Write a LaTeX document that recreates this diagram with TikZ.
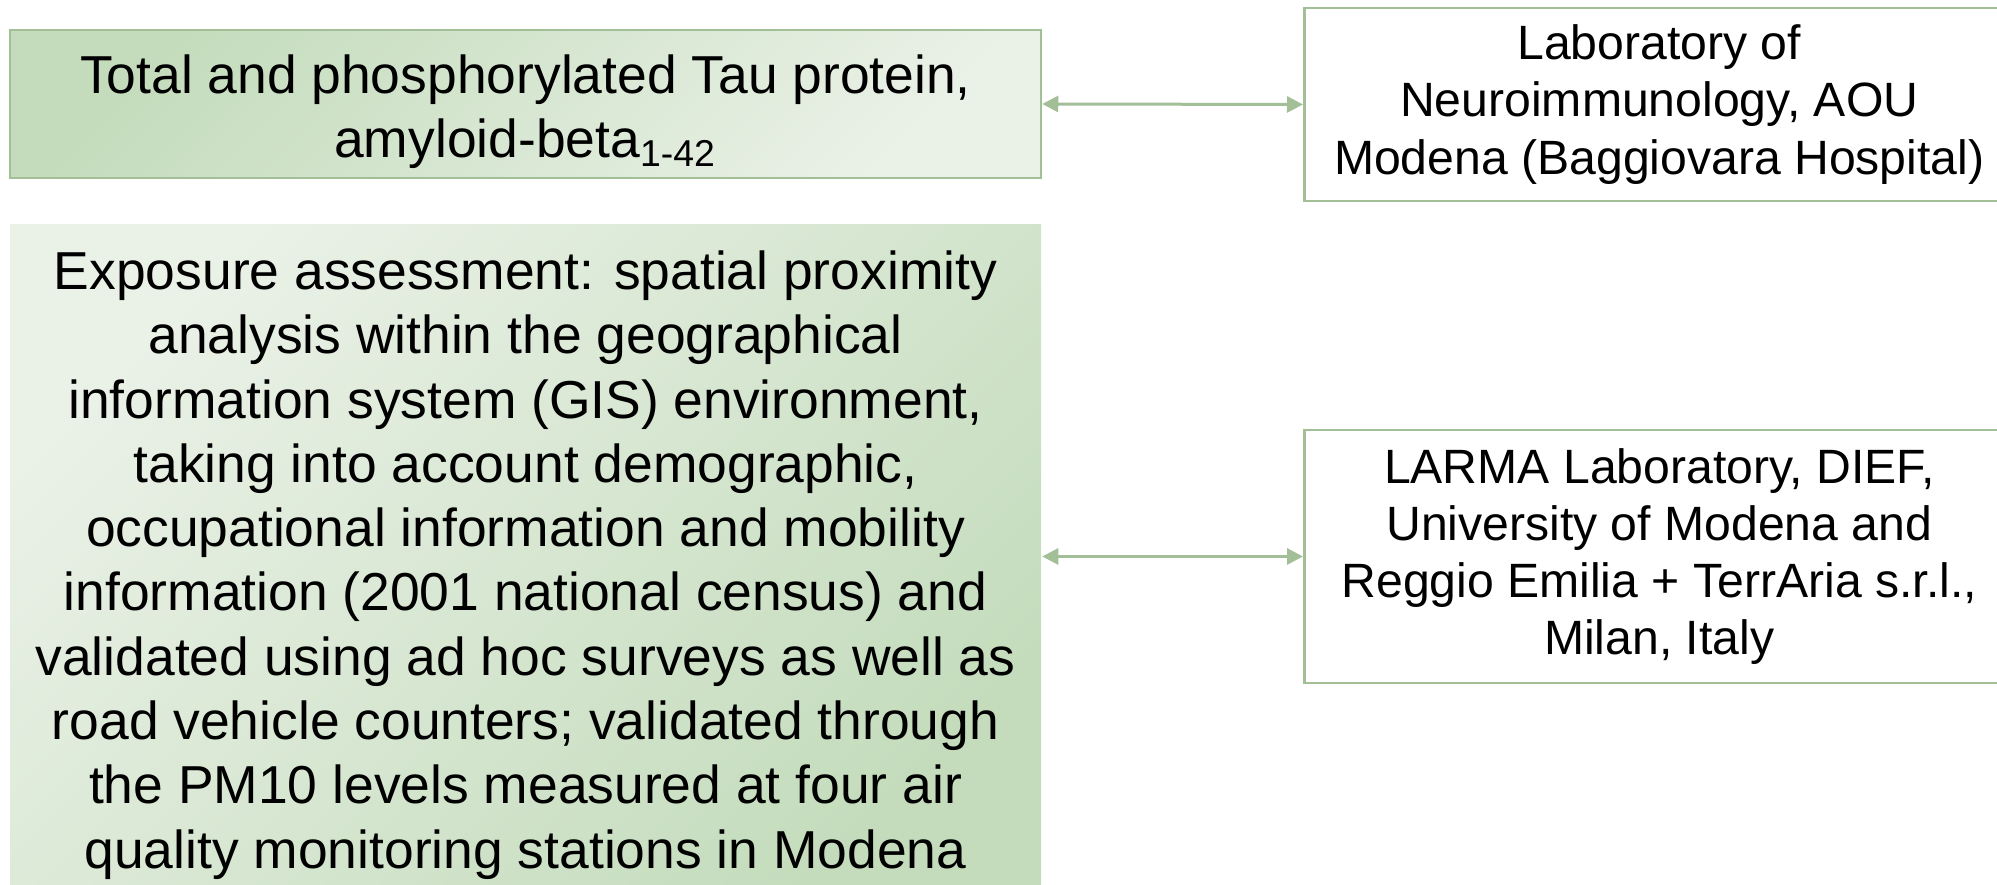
\documentclass[tikz,border=0pt]{standalone}
\usepackage{fontspec}
\setmainfont{Liberation Sans}
\usetikzlibrary{arrows.meta}

\newlength{\du}
\setlength{\du}{1mm}

\definecolor{boxline}{RGB}{163,191,152}
\definecolor{greendark}{RGB}{196,220,188}
\definecolor{greenlight}{RGB}{234,241,231}

\tikzset{
  bigtext/.style={font=\fontsize{15.2}{18.3}\selectfont, align=center},
  smalltext/.style={font=\fontsize{13.7}{16.3}\selectfont, align=center},
  greenbox/.style 2 args={rectangle, inner sep=0pt,
    top color=#1, bottom color=#2, shading angle=45},
  labbox/.style={rectangle, draw=boxline, line width=0.25mm, fill=white, inner sep=0pt},
  link/.style={draw=boxline, line width=0.3mm,
    {Triangle[length=1.6mm,width=1.6mm]}-{Triangle[length=1.6mm,width=1.6mm]}}
}

\begin{document}
\begin{tikzpicture}
\pgftransformxscale{1.000000}
\pgftransformyscale{-1.000000}
\useasboundingbox (0\du,0\du) rectangle (199.7\du,88.5\du);
\clip (0\du,0\du) rectangle (199.7\du,88.5\du);

% left column: measured quantities
\node[greenbox={greendark}{greenlight}, draw=boxline, line width=0.25mm,
      minimum width=103.1\du, minimum height=14.8\du] (tau) at (52.55\du,10.4\du) {};
\node[bigtext] (tautext) at (52.55\du,11.2\du)
  {Total and phosphorylated Tau protein,\\ amyloid-beta\textsubscript{1-42}};
\node[greenbox={greenlight}{greendark}, bigtext,
      minimum width=103.1\du, minimum height=68\du] (gis) at (52.55\du,56.5\du)
  {Exposure assessment: spatial proximity\\
   analysis within the geographical\\
   information system (GIS) environment,\\
   taking into account demographic,\\
   occupational information and mobility\\
   information (2001 national census) and\\
   validated using ad hoc surveys as well as\\
   road vehicle counters; validated through\\
   the PM10 levels measured at four air\\
   quality monitoring stations in Modena};

% right column: laboratories
\node[labbox, smalltext, minimum width=71\du, minimum height=19.3\du,
      anchor=west] (neuro) at (130.3\du,10.45\du)
  {Laboratory of\\ Neuroimmunology, AOU\\ Modena (Baggiovara Hospital)};
\node[labbox, smalltext, minimum width=71\du, minimum height=25.3\du,
      anchor=west] (larma) at (130.3\du,55.65\du)
  {LARMA Laboratory, DIEF,\\ University of Modena and\\ Reggio Emilia + TerrAria s.r.l.,\\ Milan, Italy};

\draw[link] (tau.east) -- (neuro.west);
\draw[link] (tau.east |- larma.west) -- (larma.west);
\end{tikzpicture}
\end{document}
